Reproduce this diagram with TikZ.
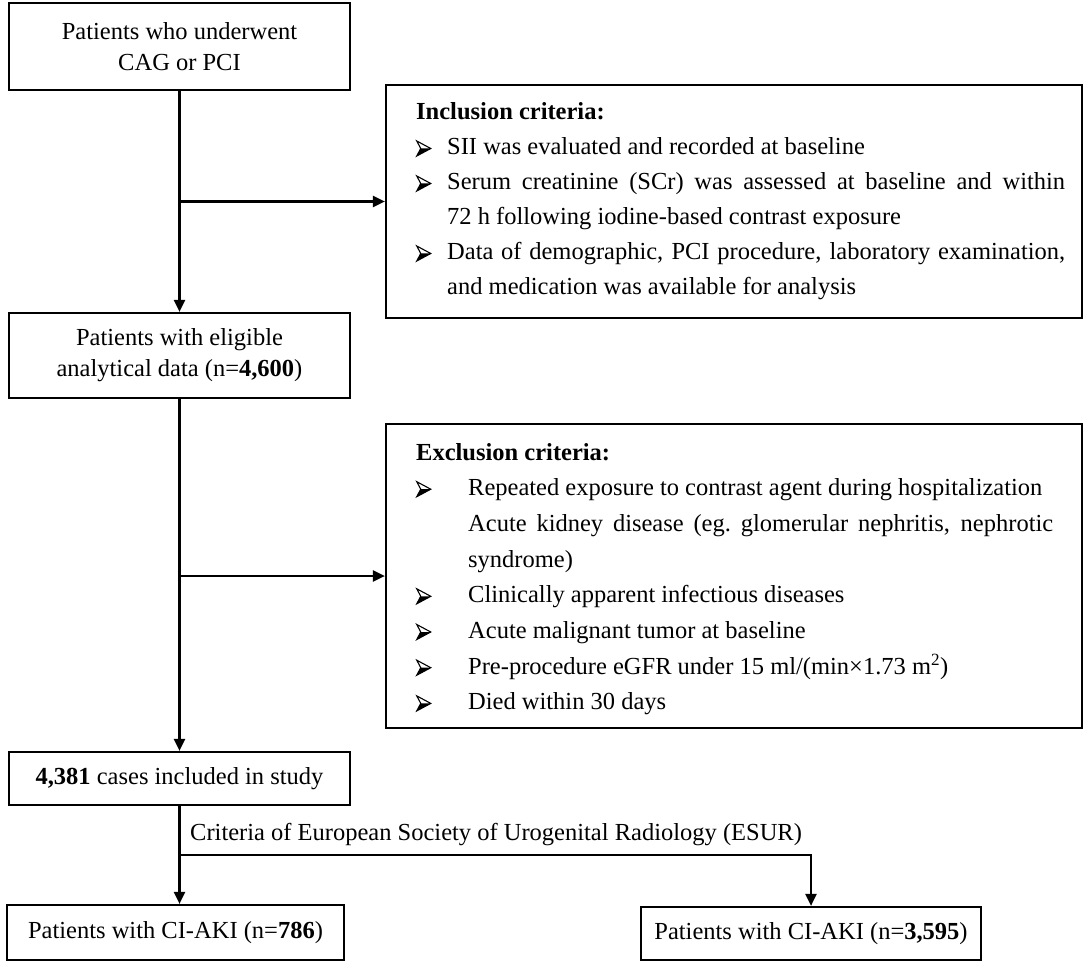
\documentclass[tikz,border=0pt]{standalone}
\usepackage{fontspec}
\setmainfont{Liberation Serif}
\usetikzlibrary{arrows.meta}
\newsavebox{\critbulbox}
\sbox{\critbulbox}{\tikz[baseline=0pt,x=1pt,y=1pt,line join=miter]{%
  \fill (0,-1) -- (14,6.5) -- (4,6.5) -- cycle;
  \draw[line width=1.1pt] (0,14) -- (14,6.5) -- (0,-1) -- (4,6.5) -- cycle;}}
\newcommand{\critbul}{\usebox{\critbulbox}}
\begin{document}
\begin{tikzpicture}[x=1pt,y=-1pt,
  box/.style={draw, line width=2.2pt, inner sep=0pt, align=center, font=\fontsize{24.5}{31}\selectfont},
  frame/.style={draw, line width=2.2pt, inner sep=0pt},
  arr/.style={line width=2.2pt, -{Triangle[length=12pt,width=11pt]}},
  ln/.style={line width=2.2pt},
  crit/.style={anchor=base west, inner sep=0pt, align=justify}]
\useasboundingbox (0,0) rectangle (1084,963);

\node[box, minimum width=341pt, minimum height=87pt] (b1) at (179.5,46.5) {Patients who underwent\\CAG or PCI};
\node[box, minimum width=341pt, minimum height=85pt] (b2) at (179.5,355.5) {Patients with eligible\\analytical data (n=\textbf{4,600})};
\node[box, minimum width=341pt, minimum height=53pt] (b3) at (179.5,778.5) {\textbf{4,381} cases included in study};
\node[box, minimum width=337pt, minimum height=55pt] (b4) at (175.5,932.5) {Patients with CI-AKI (n=\textbf{786})};
\node[box, minimum width=340pt, minimum height=53pt] (b5) at (811,933.5) {Patients with CI-AKI (n=\textbf{3,595})};

\node[frame, minimum width=696pt, minimum height=233pt] (inc) at (734,201.5) {};
\node[crit, text width=649pt, font=\fontsize{24.5}{35}\selectfont] (inctxt) at (416,120) {%
\textbf{Inclusion criteria:}\par
\hangindent=31pt\hangafter=1\noindent\makebox[31pt][l]{\critbul}SII was evaluated and recorded at baseline\par
\hangindent=31pt\hangafter=1\noindent\makebox[31pt][l]{\critbul}Serum creatinine (SCr) was assessed at baseline and within\linebreak 72 h following iodine-based contrast exposure\par
\hangindent=31pt\hangafter=1\noindent\makebox[31pt][l]{\critbul}Data of demographic, PCI procedure, laboratory examination,\linebreak and medication was available for analysis\par};

\node[frame, minimum width=696pt, minimum height=304pt] (exc) at (734,576) {};
\node[crit, text width=637pt, font=\fontsize{24.5}{35.7}\selectfont] (exctxt) at (416,460) {%
\textbf{Exclusion criteria:}\par
\hangindent=52pt\hangafter=1\noindent\makebox[52pt][l]{\critbul}Repeated exposure to contrast agent during hospitalization\par
\hangindent=52pt\hangafter=0\noindent Acute kidney disease (eg.\ glomerular nephritis, nephrotic\linebreak syndrome)\par
\hangindent=52pt\hangafter=1\noindent\makebox[52pt][l]{\critbul}Clinically apparent infectious diseases\par
\hangindent=52pt\hangafter=1\noindent\makebox[52pt][l]{\critbul}Acute malignant tumor at baseline\par
\hangindent=52pt\hangafter=1\noindent\makebox[52pt][l]{\critbul}Pre-procedure eGFR under 15 ml/(min×1.73 m\textsuperscript{2})\par
\hangindent=52pt\hangafter=1\noindent\makebox[52pt][l]{\critbul}Died within 30 days\par};

\draw[arr] (b1.south) -- (b2.north);
\draw[arr] (b1.south |- inc.west) -- (inc.west);
\draw[arr] (b2.south) -- (b3.north);
\draw[arr] (b2.south |- exc.west) -- (exc.west);

\coordinate (split) at ([yshift=-49pt]b3.south);
\draw[ln] (b3.south) -- (split);
\draw[arr] (split) -- (split |- b4.north);
\draw[arr] (split) -| (b5.north);
\node[anchor=base west, inner sep=0pt, font=\fontsize{24.5}{31}\selectfont] (esur) at (190,840) {Criteria of European Society of Urogenital Radiology (ESUR)};
\end{tikzpicture}
\end{document}
